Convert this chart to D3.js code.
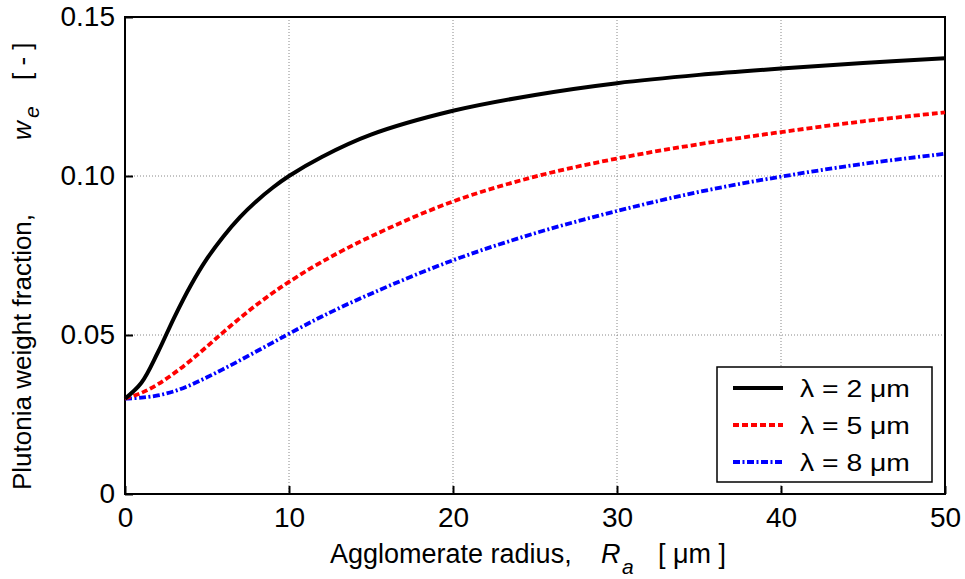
<!DOCTYPE html>
<html>
<head>
<meta charset="utf-8">
<script src="https://cdn.jsdelivr.net/npm/d3@7"></script>
<style>
  body { margin: 0; background: #fff; }
  text { font-family: "Liberation Sans", Arial, sans-serif; fill: #000; white-space: pre; }
</style>
</head>
<body>
<script>
// agglomerate radius (um)
let radius = [0, 1, 2, 3, 4, 5, 6, 7, 8, 9, 10, 12, 15, 20, 25, 30, 35, 40, 45, 50];
let lambda2 = [0.030, 0.035, 0.0445, 0.0555, 0.0655, 0.074, 0.081, 0.087, 0.092, 0.0963, 0.100, 0.106, 0.113, 0.1205, 0.1255, 0.1292, 0.1318, 0.1338, 0.1355, 0.137];
let lambda5 = [0.030, 0.0318, 0.0345, 0.038, 0.042, 0.0464, 0.0509, 0.0553, 0.0594, 0.0632, 0.0667, 0.073, 0.081, 0.092, 0.0998, 0.1055, 0.110, 0.1138, 0.1172, 0.120];
let lambda8 = [0.030, 0.0303, 0.031, 0.0323, 0.0343, 0.0367, 0.0393, 0.042, 0.0448, 0.0476, 0.0504, 0.0558, 0.063, 0.0735, 0.082, 0.089, 0.095, 0.0998, 0.1038, 0.107];
let xTicks = [0, 10, 20, 30, 40, 50];
let yTicks = [0, 0.05, 0.10, 0.15];
let yTickLabels = ["0", "0.05", "0.10", "0.15"];
let seriesNames = ["λ = 2 μm", "λ = 5 μm", "λ = 8 μm"];

var width = 965, height = 579;
var mLeft = 125, mRight = 945, mTop = 17, mBottom = 494;

let svg = d3.select("body").append("svg")
  .attr("width", width).attr("height", height);

let x = d3.scaleLinear().domain([0, 50]).range([mLeft, mRight]);
let y = d3.scaleLinear().domain([0, 0.15]).range([mBottom, mTop]);

// grid
let grid = svg.append("g");
grid.selectAll(".gx").data(xTicks.slice(1, -1)).enter().append("line")
  .attr("x1", d => x(d)).attr("x2", d => x(d))
  .attr("y1", mTop).attr("y2", mBottom)
  .attr("stroke", "#888").attr("stroke-width", 1).attr("stroke-dasharray", "1,2");
grid.selectAll(".gy").data(yTicks.slice(1, -1)).enter().append("line")
  .attr("x1", mLeft).attr("x2", mRight)
  .attr("y1", d => y(d)).attr("y2", d => y(d))
  .attr("stroke", "#888").attr("stroke-width", 1).attr("stroke-dasharray", "1,2");

// axes (inward ticks)
let xAxis = svg.append("g").attr("transform", "translate(0," + mBottom + ")")
  .call(d3.axisBottom(x).tickValues(xTicks).tickSizeInner(-8).tickSizeOuter(0).tickPadding(12));
let yAxis = svg.append("g").attr("transform", "translate(" + mLeft + ",0)")
  .call(d3.axisLeft(y).tickValues(yTicks).tickSizeInner(-8).tickSizeOuter(0).tickPadding(10)
    .tickFormat((d, i) => yTickLabels[i]));
[xAxis, yAxis].forEach(function(a) {
  a.select(".domain").remove();
  a.selectAll("line").attr("stroke", "#000").attr("stroke-width", 2);
  a.selectAll("text").style("font-size", "28px").style("font-family", "Liberation Sans, Arial, sans-serif");
});
xAxis.selectAll("text").attr("dy", "0.75em");

// frame
svg.append("rect")
  .attr("x", mLeft).attr("y", mTop)
  .attr("width", mRight - mLeft).attr("height", mBottom - mTop)
  .attr("fill", "none").attr("stroke", "#000").attr("stroke-width", 2);

// curves
let series = [
  { vals: lambda2, color: "#000", dash: null, w: 4 },
  { vals: lambda5, color: "#ff0000", dash: "6,3", w: 3.8 },
  { vals: lambda8, color: "#0000ff", dash: "7,2.5,2,2.5", w: 3.8 }
];
let line = d3.line().curve(d3.curveCatmullRom.alpha(0.5))
  .x((d, i) => x(radius[i])).y(d => y(d));

let lines = svg.append("g");
lines.selectAll("path").data(series.slice().reverse()).enter().append("path")
  .attr("d", d => line(d.vals))
  .attr("fill", "none")
  .attr("stroke", d => d.color)
  .attr("stroke-width", d => d.w)
  .attr("stroke-dasharray", d => d.dash);

// legend
let lg = svg.append("g");
lg.append("rect").attr("x", 717).attr("y", 367).attr("width", 215).attr("height", 115)
  .attr("fill", "#fff").attr("stroke", "#000").attr("stroke-width", 1.5);
series.forEach(function(s, i) {
  let ly = 388 + i * 37;
  lg.append("line").attr("x1", 733).attr("x2", 783).attr("y1", ly).attr("y2", ly)
    .attr("stroke", s.color).attr("stroke-width", s.w).attr("stroke-dasharray", s.dash);
  lg.append("text").attr("transform", "translate(800," + (ly + 9) + ") scale(1.18,1)")
    .style("font-size", "24px").text(seriesNames[i]);
});

// axis titles
svg.append("text").attr("x", 330).attr("y", 563).style("font-size", "27px")
  .text("Agglomerate radius,");
svg.append("text").attr("x", 601).attr("y", 563).style("font-size", "27px")
  .style("font-style", "italic").text("R");
svg.append("text").attr("x", 622).attr("y", 574).style("font-size", "21px")
  .style("font-style", "italic").text("a");
svg.append("text").attr("x", 658).attr("y", 563).style("font-size", "27px")
  .text("[ μm ]");

let yt = svg.append("g").attr("transform", "translate(31,490) rotate(-90)");
yt.append("text").attr("x", 0).attr("y", 0).style("font-size", "26px")
  .text("Plutonia weight fraction,");
yt.append("text").attr("x", 350).attr("y", 0).style("font-size", "26px")
  .style("font-style", "italic").text("w");
yt.append("text").attr("x", 372).attr("y", 8).style("font-size", "21px")
  .style("font-style", "italic").text("e");
yt.append("text").attr("x", 410).attr("y", 0).style("font-size", "26px")
  .text("[ - ]");
</script>
</body>
</html>
